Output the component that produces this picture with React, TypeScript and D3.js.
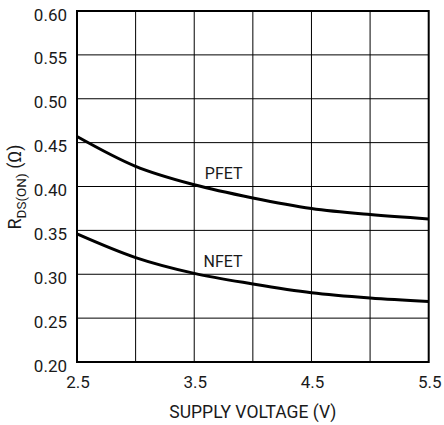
import React from 'react';
import * as d3 from 'd3';

// supply voltage (V)
const voltages = [2.5, 3.0, 3.5, 4.0, 4.5, 5.0, 5.5];
// on-resistance (ohm)
const pfet = [0.457, 0.423, 0.402, 0.387, 0.375, 0.368, 0.363];
const nfet = [0.346, 0.319, 0.301, 0.289, 0.279, 0.273, 0.269];

const xTickLabels = [2.5, 3.5, 4.5, 5.5];
const yTickLabels = [0.2, 0.25, 0.3, 0.35, 0.4, 0.45, 0.5, 0.55, 0.6];
const xGrid = [3.0, 3.5, 4.0, 4.5, 5.0];

const width = 444;
const height = 425;
const margin = { top: 11, right: 15.3, bottom: 63, left: 77 };
const font = 'Roboto, "Liberation Sans", Arial, sans-serif';

export default function App() {
  const x = d3.scaleLinear().domain([2.5, 5.5]).range([margin.left, width - margin.right]);
  const y = d3.scaleLinear().domain([0.2, 0.6]).range([height - margin.bottom, margin.top]);

  const line = d3.line<number>()
    .x((_, i) => x(voltages[i]))
    .y((d) => y(d))
    .curve(d3.curveMonotoneX);

  const [x0, x1] = x.range();
  const [y0, y1] = y.range();

  return (
    <svg width={width} height={height} style={{ position: 'absolute', left: 0, top: 0, background: '#fff' }}
      fontFamily={font}>
      {/* grid */}
      {xGrid.map((v) => (
        <line key={'gx' + v} x1={x(v)} x2={x(v)} y1={y1} y2={y0} stroke="#000" strokeWidth={1} />
      ))}
      {yTickLabels.slice(1, -1).map((v) => (
        <line key={'gy' + v} x1={x0} x2={x1} y1={y(v)} y2={y(v)} stroke="#000" strokeWidth={1} />
      ))}

      {/* curves */}
      <path d={line(pfet) || ''} fill="none" stroke="#000" strokeWidth={3} />
      <path d={line(nfet) || ''} fill="none" stroke="#000" strokeWidth={3} />

      {/* frame */}
      <rect x={x0} y={y1} width={x1 - x0} height={y0 - y1} fill="none" stroke="#000" strokeWidth={2} />

      {/* curve labels */}
      <text x={x(3.59)} y={y(0.408)} fontSize={16} fill="#1a1a1a">PFET</text>
      <text x={x(3.58)} y={y(0.308)} fontSize={16} fill="#1a1a1a">NFET</text>

      {/* y ticks */}
      {yTickLabels.map((v) => (
        <text key={'ty' + v} x={67} y={y(v) + 9.5} fontSize={17} textAnchor="end" fill="#1a1a1a">
          {v.toFixed(2)}
        </text>
      ))}

      {/* x ticks */}
      {xTickLabels.map((v) => (
        <text key={'tx' + v} x={x(v) + 1} y={388} fontSize={17} textAnchor="middle" fill="#1a1a1a">
          {v.toFixed(1)}
        </text>
      ))}

      <text x={(x0 + x1) / 2} y={418} fontSize={17.5} textAnchor="middle" fill="#1a1a1a">
        SUPPLY VOLTAGE (V)
      </text>

      <text transform="translate(21,187) rotate(-90)" fontSize={18} textAnchor="middle" fill="#1a1a1a">
        R<tspan fontSize={13.5} dy={5}>DS(ON)</tspan>
        <tspan dy={-5}> (Ω)</tspan>
      </text>
    </svg>
  );
}
